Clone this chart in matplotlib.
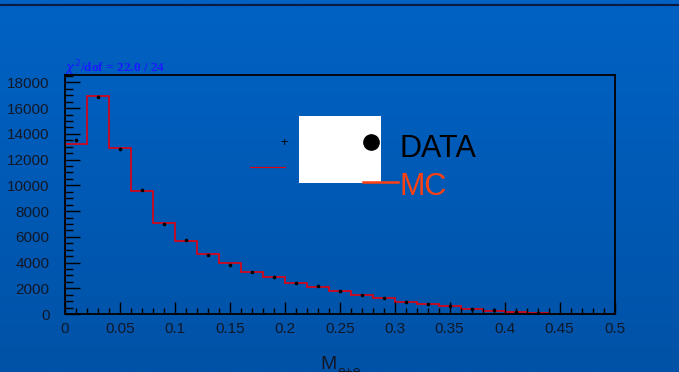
#!/usr/bin/env python3
import numpy as np
import matplotlib
matplotlib.use("Agg")
import matplotlib.pyplot as plt
from matplotlib.ticker import MultipleLocator, FuncFormatter

# --- DATA ---
BIN_EDGES = [round(0.02 * i, 2) for i in range(26)]
MC_COUNTS = [13230, 16960, 12870, 9570, 7100, 5710, 4670, 3940, 3290, 2850,
             2410, 2070, 1770, 1480, 1220, 910, 790, 600, 390, 230,
             130, 50, 20, 10, 5]
DATA_COUNTS = [13490, 16900, 12840, 9630, 7000, 5760, 4590, 3840, 3270, 2850,
               2410, 2180, 1800, 1480, 1250, 960, 750, 650, 360, 280,
               130, 60, 25, 10, 5]
FIT_TEXT = r"$\chi^2$/dof = 22.0 / 24"

plt.rcParams["font.family"] = ["Liberation Sans", "DejaVu Sans"]

W, H = 679, 372
fig = plt.figure(figsize=(W / 100, H / 100), dpi=100)

# --- slide background (blue gradient) ---
bg = fig.add_axes([0, 0, 1, 1], zorder=0)
grad = np.linspace(0, 1, 256).reshape(-1, 1)
top = np.array([0x00, 0x62, 0xC4]) / 255
bot = np.array([0x00, 0x52, 0xA6]) / 255
img = top[None, None, :] * (1 - grad[:, :, None]) + bot[None, None, :] * grad[:, :, None]
bg.imshow(img, aspect="auto", extent=[0, 1, 0, 1])
bg.plot([0, 1], [1 - 5 / H, 1 - 5 / H], color="#0A1A40", lw=1.5)
bg.set_xlim(0, 1)
bg.set_ylim(0, 1)
bg.axis("off")

# --- histogram frame ---
ax = fig.add_axes([65 / W, 1 - 314 / H, (614.5 - 65) / W, (314 - 74.7) / H], zorder=1)
ax.patch.set_alpha(0)

centers = [(BIN_EDGES[i] + BIN_EDGES[i + 1]) / 2 for i in range(len(MC_COUNTS))]
ax.stairs(MC_COUNTS, BIN_EDGES, color="#E00010", lw=1.2, baseline=0)
ax.errorbar(centers, DATA_COUNTS, yerr=np.sqrt(DATA_COUNTS), fmt="o", ms=1.6,
            color="black", ecolor="black", elinewidth=0.8, capsize=0)

ax.set_xlim(0, 0.5)
ax.set_ylim(0, 18600)
ax.xaxis.set_major_locator(MultipleLocator(0.05))
ax.xaxis.set_minor_locator(MultipleLocator(0.01))
ax.xaxis.set_major_formatter(FuncFormatter(lambda v, p: "%g" % round(v, 2)))
ax.yaxis.set_major_locator(MultipleLocator(2000))
ax.yaxis.set_minor_locator(MultipleLocator(500))
ax.tick_params(which="both", direction="in", top=False, right=False,
               color="black", labelcolor="#101828", labelsize=11)
ax.tick_params(axis="x", which="major", length=9, width=1, pad=6)
ax.tick_params(axis="x", which="minor", length=4.5, width=1)
ax.tick_params(axis="y", which="major", length=11, width=1, pad=11)
ax.tick_params(axis="y", which="minor", length=6, width=1)
for s in ax.spines.values():
    s.set_color("black")
    s.set_linewidth(1.3)

# fit result
fig.text(65 / W, 1 - 72 / H, FIT_TEXT, color="#1A1AFF", fontsize=9.5,
         family="Liberation Serif", weight="bold", va="baseline")

# axis title (cut off at the bottom, as on the slide)
fig.text(320 / W, 1 - 369 / H, "M", color="#101828", fontsize=14, va="baseline")
fig.text(337 / W, 1 - 376 / H, "e+e-", color="#101828", fontsize=10, va="baseline")

# --- pasted legend ---
fig.patches.append(plt.Rectangle((299 / W, 1 - 183 / H), 82 / W, 67 / H,
                                 transform=fig.transFigure, facecolor="white",
                                 edgecolor="none", zorder=2))
fig.add_artist(plt.Line2D([371 / W], [1 - 142 / H], marker="o", ms=11,
                          color="black", zorder=3))
fig.text(284 / W, 1 - 143 / H, "+", color="black", fontsize=9, ha="center",
         va="center", zorder=3)
fig.add_artist(plt.Line2D([250 / W, 285 / W], [1 - 167 / H, 1 - 167 / H],
                          color="#E00010", lw=0.8, zorder=3))
fig.add_artist(plt.Line2D([363 / W, 398 / W], [1 - 181.5 / H, 1 - 181.5 / H],
                          color="#FF4010", lw=1.8, zorder=3))
fig.text(400 / W, 1 - 157 / H, "DATA", color="black", fontsize=22,
         va="baseline", zorder=3)
fig.text(399 / W, 1 - 195 / H, "MC", color="#FF4010", fontsize=22,
         va="baseline", zorder=3)

fig.savefig("out.png", dpi=100)
